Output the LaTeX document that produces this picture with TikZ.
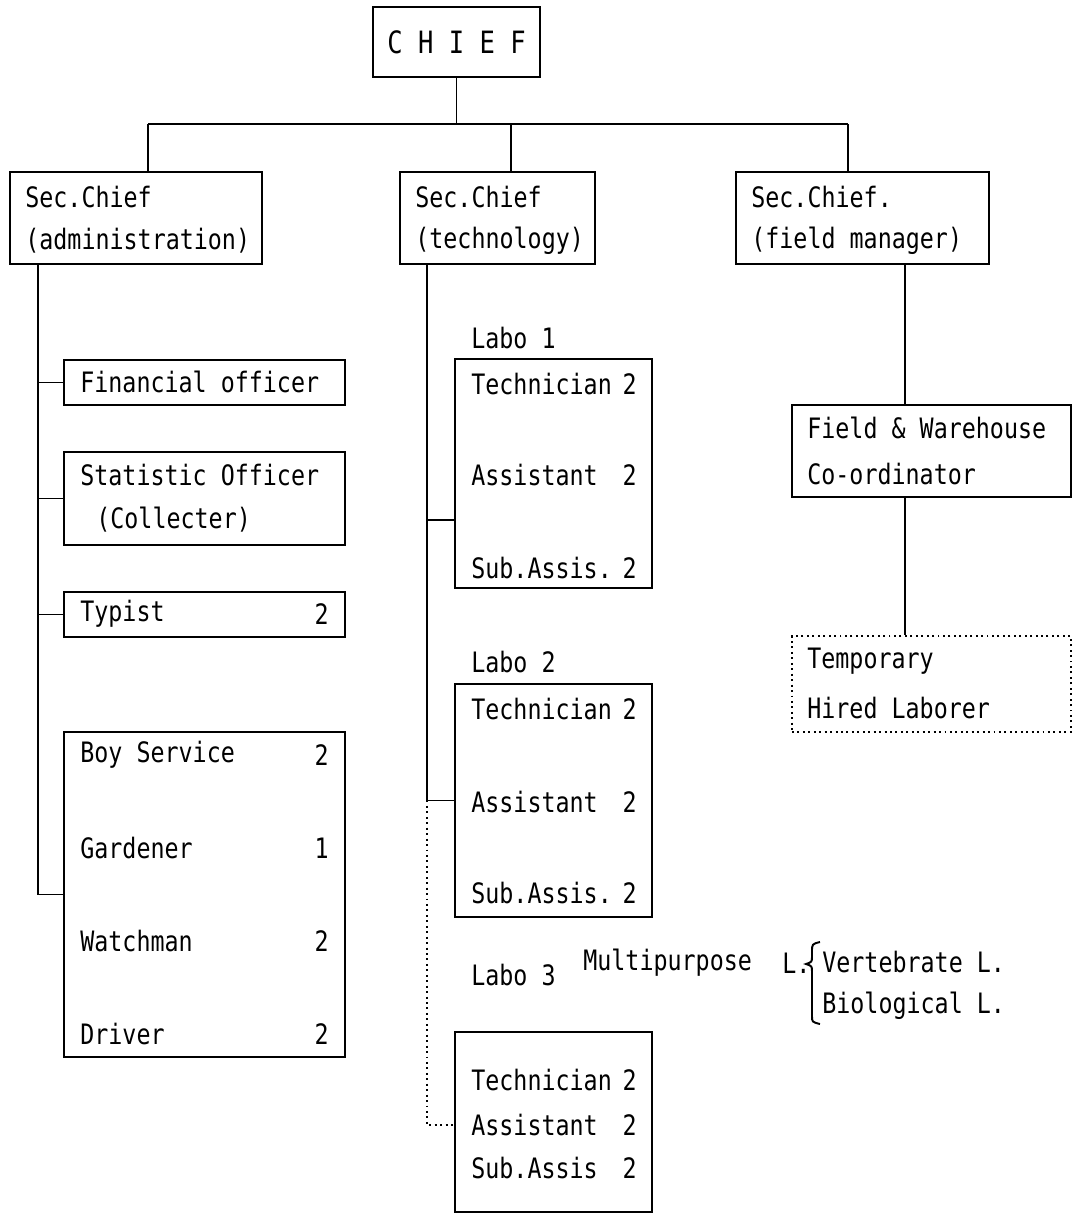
\documentclass[tikz,border=0pt]{standalone}
\usepackage{fontspec}
\setmonofont{DejaVu Sans Mono}[FakeStretch=0.83]
\usetikzlibrary{fit,calc}
\tikzset{
    orgbox/.style={draw, line width=1.1pt, inner sep=0pt},
    dotbox/.style={orgbox, dotted},
    orgtext/.style={anchor=west, inner sep=0pt, font=\ttfamily\fontsize{16}{19}\selectfont},
    orgnum/.style={orgtext, anchor=east},
    orglink/.style={line width=1.1pt},
    dotlink/.style={line width=1.1pt, dotted}
}

\begin{document}
\begin{tikzpicture}[x=0.02cm, y=-0.02cm]
\useasboundingbox (0,0) rectangle (1074,1218);

% top
\node[orgbox, fit={(373,7) (540,77)}] (chief) {};
\node[orgtext, anchor=center, font=\ttfamily\fontsize{17.5}{20}\selectfont] (chieft) at (chief.center) {C H I E F};
\coordinate (busL) at (148,124);
\coordinate (busM) at (511,124);
\coordinate (busR) at (848,124);

% section chiefs
\node[orgbox, fit={(10,172) (262,264)}] (admin) {};
\node[orgtext] (admint1) at (25,197) {Sec.Chief};
\node[orgtext] (admint2) at (25,241) {(administration)};
\node[orgbox, fit={(400,172) (595,264)}] (tech) {};
\node[orgtext] (techt1) at (415,197) {Sec.Chief};
\node[orgtext] (techt2) at (415,241) {(technology)};
\node[orgbox, fit={(736,172) (989,264)}] (field) {};
\node[orgtext] (fieldt1) at (751,197) {Sec.Chief.};
\node[orgtext] (fieldt2) at (751,241) {(field manager)};

\draw[orglink] (chief.south) -- (chief.south |- busL);
\draw[orglink] (busL) -- (busR);
\draw[orglink] (busL) -- (busL |- admin.north);
\draw[orglink] (busM) -- (busM |- tech.north);
\draw[orglink] (busR) -- (busR |- field.north);

% administration
\coordinate (aspine) at (38,264);
\node[orgbox, fit={(64,360) (345,405)}] (fin) {};
\node[orgtext] (fint) at (80,382) {Financial officer};
\node[orgbox, fit={(64,452) (345,545)}] (stat) {};
\node[orgtext] (statt1) at (80,475) {Statistic Officer};
\node[orgtext] (statt2) at (96,520) {(Collecter)};
\node[orgbox, fit={(64,592) (345,637)}] (typ) {};
\node[orgtext] (typt) at (80,614) {Typist};
\node[orgnum] (typn) at (329,614) {2};
\node[orgbox, fit={(64,732) (345,1057)}] (serv) {};
\foreach \y/\job/\num [count=\i] in {755/Boy Service/2, 848/Gardener/1, 941/Watchman/2, 1034/Driver/2}{
    \node[orgtext] (servt\i) at (80,\y) {\job};
    \node[orgnum] (servn\i) at (329,\y) {\num};
}
\draw[orglink] (aspine) -- (aspine |- serv.west) -- (serv.west);
\foreach \n in {fin,stat,typ}
    \draw[orglink] (aspine |- \n.west) -- (\n.west);

% technology
\coordinate (tspine) at (427,264);
\node[orgtext] (lab1t) at (471,338) {Labo 1};
\node[orgbox, fit={(455,359) (652,588)}] (lab1) {};
\node[orgtext] (lab2t) at (471,662) {Labo 2};
\node[orgbox, fit={(455,684) (652,917)}] (lab2) {};
\node[orgtext] (lab3t) at (471,975) {Labo 3};
\node[orgbox, fit={(455,1032) (652,1212)}] (lab3) {};
\foreach \lab/\ya/\yb/\yc in {lab1/384/475/568, lab2/709/802/893}{
    \node[orgtext] (\lab r1) at (471,\ya) {Technician};
    \node[orgnum] (\lab n1) at (637,\ya) {2};
    \node[orgtext] (\lab r2) at (471,\yb) {Assistant};
    \node[orgnum] (\lab n2) at (637,\yb) {2};
    \node[orgtext] (\lab r3) at (471,\yc) {Sub.Assis.};
    \node[orgnum] (\lab n3) at (637,\yc) {2};
}
\node[orgtext] (lab3r1) at (471,1080) {Technician};
\node[orgnum] (lab3n1) at (637,1080) {2};
\node[orgtext] (lab3r2) at (471,1125) {Assistant};
\node[orgnum] (lab3n2) at (637,1125) {2};
\node[orgtext] (lab3r3) at (471,1168) {Sub.Assis};
\node[orgnum] (lab3n3) at (637,1168) {2};
\coordinate (lab1tap) at (455,520);
\coordinate (lab3tap) at (455,1125);
\draw[orglink] (tspine) -- (tspine |- lab2.west) -- (lab2.west);
\draw[orglink] (tspine |- lab1tap) -- (lab1tap);
\draw[dotlink] (tspine |- lab2.west) -- (tspine |- lab3tap) -- (lab3tap);

\node[orgtext] (multi) at (583,963) {Multipurpose};
\node[orgtext] (multil) at (782,963) {L.};
\draw[line width=1.1pt] (820,942) .. controls (812,944) .. (812,952) -- (812,956)
    .. controls (812,962) .. (806,964) .. controls (812,966) .. (812,972)
    -- (812,1016) .. controls (812,1022) .. (820,1024);
\node[orgtext] (vert) at (822,962) {Vertebrate L.};
\node[orgtext] (bio) at (822,1006) {Biological L.};

% field
\coordinate (fspine) at (905,264);
\node[orgbox, fit={(792,405) (1071,497)}] (coord) {};
\node[orgtext] (coordt1) at (807,428) {Field \& Warehouse};
\node[orgtext] (coordt2) at (807,474) {Co-ordinator};
\node[dotbox, fit={(792,636) (1071,732)}] (temp) {};
\node[orgtext] (tempt1) at (807,661) {Temporary};
\node[orgtext] (tempt2) at (807,708) {Hired Laborer};
\draw[orglink] (fspine) -- (fspine |- coord.north);
\draw[orglink] (fspine |- coord.south) -- (fspine |- temp.north);
\end{tikzpicture}
\end{document}
